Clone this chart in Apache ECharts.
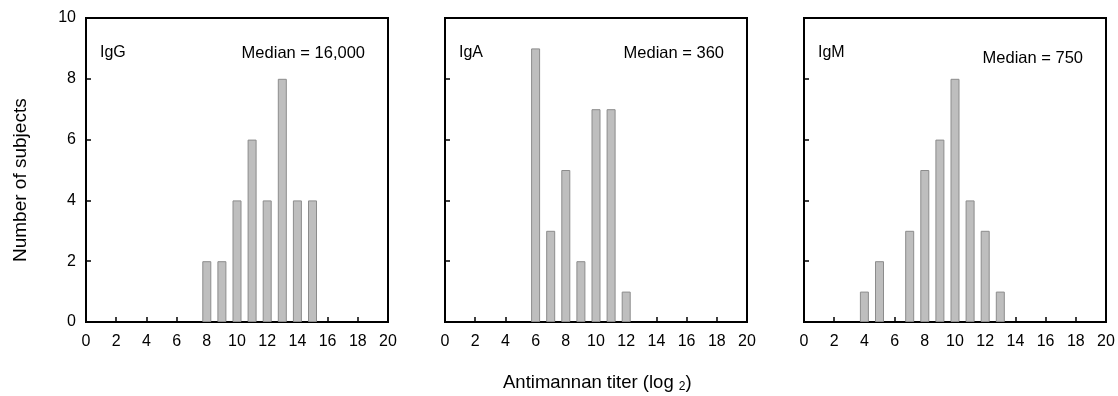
<!DOCTYPE html>
<html>
<head>
<meta charset="utf-8">
<script src="https://cdn.jsdelivr.net/npm/echarts@6/dist/echarts.min.js"></script>
<style>
  html, body { margin: 0; padding: 0; background: #fff; }
  #chart { width: 1118px; height: 396px; }
</style>
</head>
<body>
<div id="chart"></div>
<script>
// titer (log2) bins and counts
var igG = [[8, 2], [9, 2], [10, 4], [11, 6], [12, 4], [13, 8], [14, 4], [15, 4]];
var igA = [[6, 9], [7, 3], [8, 5], [9, 2], [10, 7], [11, 7], [12, 1]];
var igM = [[4, 1], [5, 2], [7, 3], [8, 5], [9, 6], [10, 8], [11, 4], [12, 3], [13, 1]];
var panelNames = ['IgG', 'IgA', 'IgM'];
var medians = ['Median = 16,000', 'Median = 360', 'Median = 750'];
var panelData = [igG, igA, igM];

var FONT = 'Liberation Sans, Arial, sans-serif';
var lefts = [86, 445, 804];
var plotW = 302;
var plotTop = 18;
var plotH = 304;

var myChart = echarts.init(document.getElementById('chart'));

var grids = [], xAxes = [], yAxes = [], series = [], titles = [];
for (var i = 0; i < 3; i++) {
    grids.push({
        left: lefts[i], top: plotTop, width: plotW, height: plotH,
        show: true, borderColor: '#000', borderWidth: 2, backgroundColor: '#fff'
    });
    xAxes.push({
        gridIndex: i, type: 'value', min: 0, max: 20, interval: 2,
        axisLine: { show: true, lineStyle: { color: '#000', width: 2 } },
        axisTick: { show: true, inside: true, length: 5, lineStyle: { color: '#000', width: 1.5 } },
        axisLabel: { color: '#000', fontSize: 16, fontFamily: FONT, margin: 12 },
        splitLine: { show: false }
    });
    yAxes.push({
        gridIndex: i, type: 'value', min: 0, max: 10, interval: 2,
        axisLine: { show: true, lineStyle: { color: '#000', width: 2 } },
        axisTick: { show: true, inside: true, length: 5, lineStyle: { color: '#000', width: 1.5 } },
        axisLabel: { show: i === 0, color: '#000', fontSize: 16, fontFamily: FONT, margin: 10 },
        splitLine: { show: false }
    });
    series.push({
        type: 'bar', xAxisIndex: i, yAxisIndex: i,
        data: panelData[i], barWidth: 9,
        itemStyle: { color: '#bebebe', borderColor: '#8c8c8c', borderWidth: 1 },
        z: 1
    });
    titles.push({
        text: panelNames[i], left: lefts[i] + 14, top: 45, padding: 0,
        textStyle: { fontSize: 16, fontWeight: 'normal', color: '#000', fontFamily: FONT }
    });
    titles.push({
        text: medians[i], right: 1118 - (lefts[i] + plotW - 23), top: i === 2 ? 50 : 45, padding: 0,
        textStyle: { fontSize: 16.5, fontWeight: 'normal', color: '#000', fontFamily: FONT }
    });
}

var option = {
    animation: false,
    backgroundColor: '#fff',
    title: titles,
    grid: grids,
    xAxis: xAxes,
    yAxis: yAxes,
    series: series,
    graphic: [{
        type: 'text', x: 11, y: 262, rotation: Math.PI / 2,
        style: { text: 'Number of subjects', fontSize: 19, fontFamily: FONT, fill: '#000' }
    }, {
        type: 'text', left: 503, top: 373,
        style: {
            text: 'Antimannan titer (log {sub|2})',
            fontSize: 18.5, fontFamily: FONT, fill: '#000',
            rich: { sub: { fontSize: 12, fontFamily: FONT, fill: '#000', padding: [9, 0, 0, 0] } }
        }
    }]
};

myChart.setOption(option);
</script>
</body>
</html>
